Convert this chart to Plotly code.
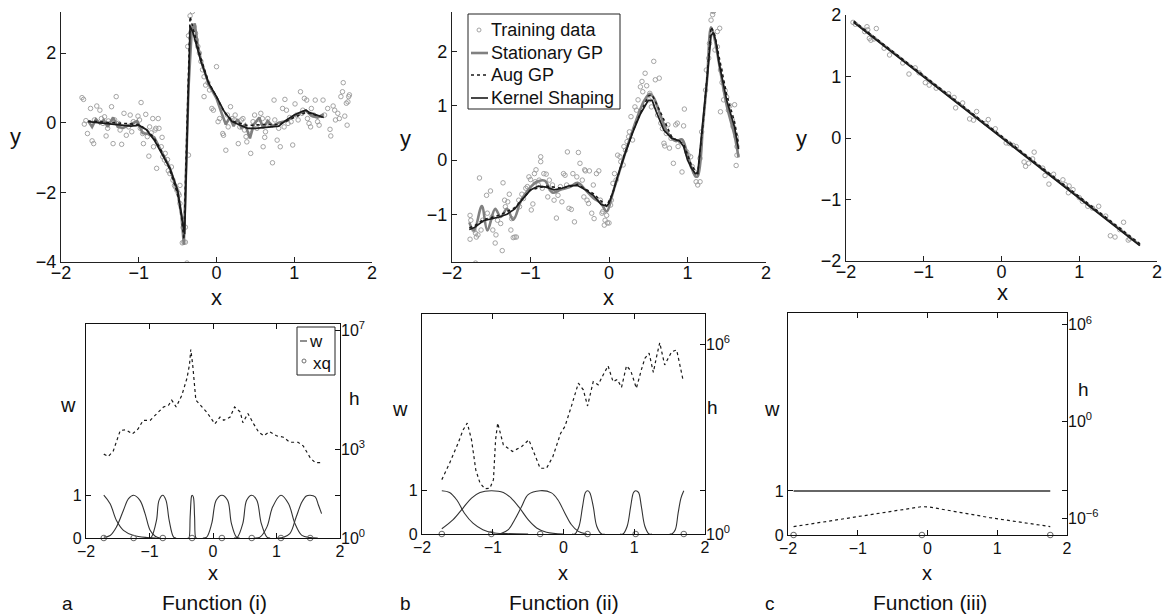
import plotly.graph_objects as go

W, H = 1166, 614
def fx(p): return p / W
def fy(p): return 1 - p / H

FONT = "Liberation Sans, Arial, sans-serif"

# ---------------- Top-left: Function (i) ----------------
TL_X = [-1.73,-1.71,-1.70,-1.68,-1.66,-1.62,-1.60,-1.58,-1.57,-1.54,-1.50,-1.48,-1.46,-1.44,-1.42,-1.40,-1.39,-1.35,-1.33,-1.29,
        -1.31,-1.26,-1.24,-1.22,-1.19,-1.16,-1.13,-1.11,-1.09,-1.07,-1.04,-1.01,-0.99,-0.98,-0.97,-0.95,-0.94,-0.91,-0.89,-0.87,
        -0.86,-0.84,-0.82,-0.81,-0.79,-0.78,-0.77,-0.75,-0.74,-0.71,-0.70,-0.69,-0.67,-0.66,-0.64,-0.63,-0.62,-0.60,-0.58,-0.56,
        -0.54,-0.53,-0.51,-0.49,-0.48,-0.47,-0.47,-0.44,-0.42,-0.40,-0.43,-0.40,-0.38,-0.36,-0.34,-0.31,-0.33,-0.36,-0.37,-0.29,
        -0.27,-0.26,-0.24,-0.22,-0.20,-0.18,-0.16,-0.14,-0.16,-0.11,-0.09,-0.06,-0.04,0.00,0.02,0.04,0.08,0.09,0.12,0.14,
        0.15,0.18,0.20,0.23,0.24,0.28,0.30,0.32,0.34,0.36,0.38,0.39,0.42,0.44,0.47,0.49,0.52,0.54,0.57,0.59,
        0.60,0.62,0.63,0.66,0.69,0.72,0.74,0.75,0.78,0.80,0.82,0.85,0.87,0.88,0.90,0.92,0.94,0.96,0.98,1.01,
        1.03,1.05,1.08,1.10,1.11,1.13,1.16,1.17,1.19,1.21,1.22,1.25,1.27,1.30,1.32,1.37,1.39,1.43,1.46,1.47,
        1.50,1.52,1.53,1.56,1.58,1.60,1.62,1.63,1.65,1.67,1.68,1.70,1.71,1.69]
TL_Y = [0.72,0.67,-0.04,0.06,-0.31,0.41,-0.52,-0.60,0.08,0.48,0.36,0.12,-0.02,0.17,-0.38,-0.16,0.05,0.46,-0.60,0.75,
        0.08,-0.02,-0.21,-0.62,0.27,-0.36,-0.12,0.22,-0.26,0.03,-0.04,0.19,0.08,-0.16,0.58,-0.31,-0.60,0.24,-0.40,-0.96,
        -0.12,-0.29,0.12,-0.69,-0.21,-0.16,-1.31,0.12,-0.16,-0.69,-0.42,-0.98,-1.07,-0.88,-1.17,-1.06,-1.38,-1.46,-1.27,-1.65,
        -1.80,-1.84,-1.94,-2.03,-2.08,-2.32,-1.80,-3.45,-3.43,-3.43,-3.01,-3.00,-4.03,-0.93,3.07,3.19,2.57,2.50,2.19,2.76,
        2.57,2.38,2.19,2.00,1.76,1.52,1.32,1.08,0.75,1.15,0.94,0.41,0.36,1.61,0.03,0.12,-0.31,-0.36,-0.79,0.22,
        -0.12,0.46,0.12,0.08,0.22,-0.60,-0.12,0.08,0.12,-0.21,-0.40,-0.55,-0.21,-0.88,0.03,0.22,-0.16,-0.02,0.27,0.12,
        -0.69,-0.42,-0.26,0.12,-0.07,-1.15,0.65,0.08,-0.50,-0.16,-0.69,0.41,-0.12,0.67,0.36,-0.02,0.15,0.03,-0.64,0.54,
        0.22,0.08,0.89,0.27,0.36,0.70,0.65,0.12,-0.02,-0.12,0.41,0.22,0.65,0.03,-0.07,0.65,0.22,0.41,-0.19,-0.38,
        0.48,0.36,0.08,0.27,0.12,0.75,0.89,1.15,0.19,0.56,-0.07,0.75,0.80,0.60]

TL_STAT_X = [-1.65,-1.60,-1.55,-1.50,-1.45,-1.40,-1.33,-1.27,-1.20,-1.12,-1.02,-0.95,-0.88,-0.80,-0.70,-0.60,-0.50,-0.45,-0.42,
             -0.36,-0.32,-0.28,-0.24,-0.20,-0.10,0.00,0.07,0.12,0.17,0.22,0.27,0.32,0.37,0.43,0.48,0.55,0.60,0.66,0.72,
             0.80,0.90,1.00,1.10,1.15,1.22,1.30,1.38]
TL_STAT_Y = [0.05,-0.12,0.10,-0.02,0.08,-0.12,0.15,-0.12,-0.15,-0.05,0.05,-0.30,-0.32,-0.42,-0.85,-1.30,-2.00,-2.70,-3.50,
             1.00,2.60,2.85,2.20,1.80,1.10,0.70,0.25,-0.05,0.15,-0.10,0.10,-0.15,-0.05,-0.45,-0.05,0.15,-0.15,0.05,-0.10,
             0.00,0.05,0.20,0.30,0.35,0.20,0.15,0.25]
TL_AUG_X = [-1.65,-1.30,-1.00,-0.90,-0.80,-0.70,-0.60,-0.50,-0.45,-0.42,-0.34,-0.30,-0.20,-0.10,0.00,0.10,0.20,0.40,0.60,
            0.80,1.00,1.15,1.38]
TL_AUG_Y = [0.05,0.00,-0.05,-0.20,-0.45,-0.85,-1.35,-2.05,-2.70,-3.35,3.05,2.70,1.85,1.15,0.75,0.30,0.05,-0.08,-0.05,
            -0.05,0.15,0.30,0.15]
TL_KS_X = [-1.65,-1.50,-1.30,-1.10,-1.00,-0.90,-0.80,-0.70,-0.60,-0.50,-0.45,-0.41,-0.34,-0.30,-0.20,-0.10,0.00,0.10,
           0.20,0.30,0.40,0.50,0.60,0.70,0.80,0.90,1.00,1.10,1.15,1.20,1.30,1.38]
TL_KS_Y = [0.03,0.00,-0.04,-0.10,-0.07,-0.20,-0.50,-0.88,-1.30,-1.94,-2.60,-3.20,2.78,2.57,1.76,1.13,0.75,0.32,
           0.03,-0.07,-0.16,-0.16,-0.14,-0.12,-0.10,0.08,0.22,0.32,0.36,0.29,0.22,0.15]

# ---------------- Top-middle: Function (ii) ----------------
TM_X = [-1.77,-1.76,-1.77,-1.72,-1.70,-1.69,-1.67,-1.70,-1.65,-1.63,-1.61,-1.56,-1.55,-1.51,-1.49,-1.48,-1.45,-1.44,-1.42,-1.38,
        -1.36,-1.35,-1.33,-1.32,-1.29,-1.27,-1.25,-1.24,-1.22,-1.20,-1.18,-1.15,-1.14,-1.11,-1.09,-1.06,-1.04,-1.02,-1.00,-0.99,
        -0.97,-0.95,-0.94,-0.93,-0.90,-0.89,-0.87,-0.87,-0.85,-0.83,-0.80,-0.78,-0.76,-0.74,-0.72,-0.70,-0.67,-0.65,-0.62,-0.60,
        -0.58,-0.56,-0.54,-0.53,-0.51,-0.48,-0.46,-0.44,-0.41,-0.39,-0.37,-0.34,-0.32,-0.31,-0.30,-0.28,-0.26,-0.25,-0.22,-0.20,
        -0.19,-0.16,-0.13,-0.11,-0.09,-0.08,-0.06,-0.05,-0.03,-0.02,0.00,0.02,0.03,0.05,0.07,0.09,0.11,0.14,0.15,0.18,
        0.19,0.21,0.23,0.25,0.26,0.28,0.30,0.33,0.35,0.37,0.40,0.42,0.43,0.46,0.48,0.51,0.52,0.54,0.57,0.59,
        0.60,0.62,0.64,0.66,0.68,0.70,0.71,0.73,0.75,0.77,0.79,0.82,0.85,0.87,0.88,0.91,0.93,0.95,0.96,0.99,
        1.01,1.04,1.06,1.09,1.11,1.13,1.16,1.16,1.18,1.23,1.24,1.27,1.28,1.30,1.32,1.33,1.31,1.34,1.35,1.38,
        1.38,1.41,1.42,1.44,1.46,1.48,1.50,1.52,1.54,1.57,1.58,1.60,1.62,1.63,1.62,1.63,1.42]
TM_Y = [-1.02,-1.11,-1.46,-1.29,-1.35,-1.42,-1.38,-1.90,-0.33,-1.29,-1.11,-0.65,-0.98,-0.57,-1.05,-1.29,-1.53,-1.38,-1.11,-1.17,
        -1.67,-0.42,-0.74,-0.86,-0.77,-0.63,-1.29,-1.08,-1.43,-1.42,-1.42,-0.74,-0.86,-0.63,-0.71,-0.52,-0.49,-0.31,-0.36,-0.92,
        -0.81,-0.25,-0.40,-0.18,-0.46,-0.37,0.06,-0.03,-0.52,-0.25,-0.26,-0.68,-0.37,-0.54,-0.46,-0.74,-1.07,-0.65,-0.49,-0.77,
        -0.25,-0.28,-0.46,0.15,-0.89,-0.91,-0.25,-1.14,-0.31,0.14,-0.06,-0.37,-0.68,-0.18,-0.20,-0.74,-0.80,-0.20,-0.98,-0.46,
        -1.08,-0.25,-0.20,-0.74,-0.98,-0.95,-1.20,-1.11,-1.02,-1.16,-1.16,-0.83,-0.74,-0.43,-0.25,-0.37,0.09,0.06,-0.03,-0.09,
        0.25,0.18,0.34,0.43,0.52,0.80,0.37,0.98,0.92,1.11,1.35,1.45,1.26,1.60,1.37,1.11,1.23,0.98,1.82,1.48,
        0.98,0.83,1.51,0.68,0.58,0.31,0.26,0.49,0.65,0.22,0.40,-0.06,0.65,0.68,0.25,0.34,-0.22,0.63,0.94,0.15,
        0.09,0.06,-0.12,-0.22,-0.40,-0.46,0.03,-0.40,0.52,1.29,1.66,1.88,2.15,2.58,2.68,2.74,2.76,2.76,2.03,2.09,
        2.37,2.43,1.66,1.43,1.11,1.28,1.16,0.92,1.00,0.74,0.62,1.02,0.43,0.25,-0.10,0.09,0.89]

TM_STAT_X = [-1.78,-1.72,-1.62,-1.55,-1.45,-1.38,-1.30,-1.22,-1.12,-1.00,-0.92,-0.82,-0.72,-0.62,-0.50,-0.40,-0.30,-0.20,
             -0.10,-0.03,0.05,0.20,0.35,0.45,0.52,0.57,0.65,0.75,0.85,0.93,1.00,1.10,1.13,1.20,1.25,1.30,1.35,1.40,1.50,
             1.60,1.65]
TM_STAT_Y = [-1.15,-1.30,-0.85,-1.30,-0.90,-1.05,-0.90,-1.10,-0.75,-0.50,-0.40,-0.38,-0.60,-0.55,-0.50,-0.42,-0.55,-0.70,
             -0.80,-0.95,-0.60,0.10,0.75,1.10,1.22,1.15,0.85,0.50,0.35,0.38,0.10,-0.30,-0.30,0.70,1.50,2.45,2.20,1.80,1.00,
             0.45,0.05]
TM_AUG_X = [-1.78,-1.72,-1.60,-1.40,-1.20,-1.00,-0.80,-0.60,-0.40,-0.20,-0.03,0.05,0.20,0.35,0.50,0.55,0.65,0.80,0.95,
            1.05,1.13,1.20,1.25,1.30,1.34,1.40,1.50,1.60,1.65]
TM_AUG_Y = [-1.25,-1.22,-1.10,-1.02,-0.88,-0.55,-0.48,-0.52,-0.45,-0.62,-0.85,-0.60,0.12,0.70,1.18,1.20,0.90,0.42,0.30,
            -0.10,-0.25,0.70,1.55,2.45,2.35,1.90,1.20,0.70,0.30]
TM_KS_X = [-1.78,-1.72,-1.60,-1.40,-1.30,-1.20,-1.10,-1.00,-0.90,-0.80,-0.70,-0.60,-0.50,-0.40,-0.30,-0.20,-0.10,-0.03,
           0.00,0.05,0.10,0.20,0.30,0.40,0.50,0.55,0.60,0.70,0.80,0.90,0.95,1.00,1.05,1.10,1.13,1.20,1.25,1.30,1.33,1.36,
           1.40,1.50,1.60,1.65]
TM_KS_Y = [-1.28,-1.25,-1.12,-1.05,-1.00,-0.90,-0.72,-0.55,-0.48,-0.50,-0.55,-0.52,-0.47,-0.47,-0.55,-0.65,-0.82,-0.85,
           -0.80,-0.60,-0.35,0.10,0.50,0.85,1.10,1.10,0.90,0.55,0.40,0.35,0.25,0.00,-0.15,-0.25,-0.25,0.70,1.50,2.30,2.35,2.20,
           1.80,1.10,0.60,0.20]

# ---------------- Top-right: Function (iii) ----------------
TR_X = [-1.91,-1.88,-1.73,-1.72,-1.70,-1.68,-1.61,-1.64,-1.51,-1.44,-1.19,-1.11,-1.06,-0.98,-0.93,-0.68,-0.61,-0.59,-0.41,-0.36,
        -0.32,-0.17,-0.08,0.06,0.10,0.15,0.29,0.31,0.35,0.42,0.40,0.56,0.61,0.67,0.79,0.82,0.86,0.87,1.00,1.04,
        1.11,1.25,1.40,1.46,1.57,1.63,1.65,-1.76,-1.27,-0.84,-0.50,-0.20,0.19,0.53,0.92,1.17,1.34,1.52]
TR_Y = [1.88,1.85,1.81,1.76,1.62,1.59,1.78,1.61,1.46,1.35,1.04,1.14,1.06,0.90,0.86,0.72,0.66,0.49,0.31,0.29,
        0.43,0.30,0.15,-0.08,-0.09,-0.12,-0.39,-0.46,-0.41,-0.23,-0.34,-0.61,-0.75,-0.59,-0.68,-0.76,-0.89,-0.78,-0.97,-1.03,
        -1.11,-1.11,-1.59,-1.61,-1.37,-1.66,-1.64,1.73,1.22,0.81,0.57,0.24,-0.14,-0.49,-0.84,-1.14,-1.27,-1.49]
TR_LINE_X = [-1.90, 1.78]
TR_STAT_Y = [1.89, -1.74]
TR_AUG_Y = [1.90, -1.72]
TR_KS_Y = [1.88, -1.75]

# ---------------- Bottom-left: weights (i) ----------------
BL_XQ = [-1.72, -1.25, -0.79, -0.33, 0.14, 0.61, 1.07, 1.53]
BL_XQ_W = [0, 0, 0, 0, 0, 0, 0, 0]
BL_BUMP_X = [
    [-1.72, -1.62, -1.52, -1.41, -1.25, -1.04, -0.90],
    [-1.72, -1.62, -1.52, -1.41, -1.33, -1.25, -1.15, -1.07, -0.99, -0.91, -0.83],
    [-1.00, -0.97, -0.89, -0.85, -0.79, -0.74, -0.69, -0.62, -0.58],
    [-0.40, -0.38, -0.36, -0.34, -0.33, -0.31, -0.29, -0.27, -0.25],
    [-0.16, -0.10, -0.02, 0.05, 0.14, 0.23, 0.29, 0.37, 0.42],
    [0.33, 0.38, 0.47, 0.53, 0.61, 0.69, 0.76, 0.85, 0.90],
    [0.65, 0.74, 0.85, 0.94, 1.07, 1.19, 1.29, 1.40, 1.53, 1.65],
    [1.00, 1.10, 1.21, 1.31, 1.40, 1.47, 1.53, 1.61, 1.66, 1.71],
]
BL_BUMP_W = [
    [1.00, 0.80, 0.41, 0.18, 0.06, 0.01, 0.00],
    [0.02, 0.06, 0.26, 0.65, 0.92, 1.00, 0.88, 0.57, 0.18, 0.04, 0.00],
    [0.00, 0.02, 0.41, 0.88, 1.00, 0.88, 0.41, 0.02, 0.00],
    [0.00, 0.00, 0.49, 0.96, 1.00, 0.96, 0.49, 0.00, 0.00],
    [0.00, 0.02, 0.34, 0.88, 1.00, 0.88, 0.34, 0.02, 0.00],
    [0.00, 0.01, 0.34, 0.88, 1.00, 0.88, 0.34, 0.02, 0.00],
    [0.00, 0.02, 0.26, 0.73, 1.00, 0.80, 0.34, 0.06, 0.01, 0.00],
    [0.00, 0.01, 0.10, 0.49, 0.84, 0.98, 1.00, 0.96, 0.77, 0.57],
]
BL_H_X = [-1.72,-1.65,-1.57,-1.46,-1.37,-1.27,-1.18,-1.10,-0.99,-0.89,-0.78,-0.70,-0.65,-0.58,-0.49,-0.41,-0.37,-0.35,
          -0.32,-0.27,-0.20,-0.10,0.03,0.11,0.17,0.27,0.34,0.43,0.47,0.55,0.64,0.72,0.80,0.89,1.00,1.11,1.21,1.34,1.42,
          1.53,1.61,1.70]
BL_H_LOG = [2.83,2.75,2.94,3.63,3.65,3.51,3.68,3.97,3.97,4.20,4.42,4.48,4.65,4.42,4.82,5.39,5.85,6.36,
            5.85,4.65,4.48,4.25,3.85,4.08,3.97,4.08,4.42,4.25,3.89,4.20,3.85,3.57,3.45,3.59,3.45,3.40,3.23,3.23,3.11,
            2.71,2.54,2.54]

# ---------------- Bottom-middle: weights (ii) ----------------
BM_XQ = [-1.72, -1.02, -0.33, 0.34, 1.02, 1.70]
BM_XQ_W = [0, 0, 0, 0, 0, 0]
BM_BUMP_X = [
    [-1.72, -1.61, -1.51, -1.40, -1.28, -1.14, -1.00, -0.81, -0.50],
    [-1.72, -1.56, -1.42, -1.30, -1.18, -1.02, -0.85, -0.74, -0.62, -0.50, -0.38, -0.24, 0.00],
    [-0.90, -0.78, -0.69, -0.59, -0.50, -0.33, -0.17, -0.08, 0.02, 0.11, 0.21, 0.33],
    [0.12, 0.16, 0.22, 0.27, 0.31, 0.34, 0.37, 0.42, 0.47, 0.54, 0.58],
    [0.80, 0.84, 0.90, 0.95, 0.99, 1.02, 1.06, 1.10, 1.15, 1.21, 1.25],
    [1.50, 1.53, 1.58, 1.62, 1.66, 1.70],
]
BM_BUMP_W = [
    [1.00, 0.96, 0.79, 0.48, 0.25, 0.10, 0.03, 0.01, 0.00],
    [0.12, 0.33, 0.60, 0.83, 0.96, 1.00, 0.96, 0.83, 0.60, 0.33, 0.14, 0.04, 0.00],
    [0.00, 0.10, 0.33, 0.64, 0.91, 1.00, 0.95, 0.79, 0.48, 0.22, 0.06, 0.00],
    [0.00, 0.00, 0.18, 0.64, 0.96, 1.00, 0.96, 0.64, 0.18, 0.00, 0.00],
    [0.00, 0.00, 0.18, 0.64, 0.96, 1.00, 0.96, 0.64, 0.18, 0.00, 0.00],
    [0.00, 0.00, 0.10, 0.48, 0.83, 1.00],
]
BM_H_X = [-1.72,-1.61,-1.49,-1.42,-1.36,-1.30,-1.24,-1.18,-1.11,-1.04,-0.99,-0.96,-0.93,-0.85,-0.72,-0.59,-0.49,-0.43,
          -0.33,-0.24,-0.15,-0.04,0.02,0.11,0.21,0.28,0.34,0.42,0.49,0.56,0.63,0.70,0.76,0.82,0.89,0.95,1.03,1.10,
          1.15,1.21,1.27,1.32,1.36,1.43,1.53,1.60,1.69]
BM_H_LOG = [1.72,2.24,2.87,3.29,3.51,2.98,2.03,1.61,1.43,1.45,1.72,2.98,3.51,2.82,2.61,2.77,2.98,2.66,
            2.08,2.08,2.45,3.19,3.40,4.03,4.77,4.56,4.05,4.82,4.72,5.03,5.32,4.82,4.89,4.64,5.32,5.17,4.61,5.19,
            5.56,5.72,5.11,5.66,6.05,5.35,5.77,5.82,4.87]

# ---------------- Bottom-right: weights (iii) ----------------
BR_XQ = [-1.92, -0.08, 1.76]
BR_XQ_W = [0, 0, 0]
BR_W_X = [-1.92, 1.76]
BR_W_Y = [1, 1]
BR_H_X = [-1.92, -1.03, -0.08, 0.02, 0.89, 1.76]
BR_H_LOG = [-6.52, -5.92, -5.28, -5.30, -5.96, -6.52]

# ---------------- figure ----------------
fig = go.Figure()

C_DATA = "#9a9a9a"
C_STAT = "#808080"
C_DARK = "#1a1a1a"
C_W = "#333333"

def add_top(xs, ys, stx, sty, agx, agy, ksx, ksy, xa, ya, stat_shape="linear"):
    fig.add_trace(go.Scatter(x=xs, y=ys, mode="markers", xaxis=xa, yaxis=ya, showlegend=False,
                             marker=dict(symbol="circle-open", size=4.5, color=C_DATA, line=dict(width=0.9))))
    fig.add_trace(go.Scatter(x=stx, y=sty, mode="lines", xaxis=xa, yaxis=ya, showlegend=False,
                             line=dict(color=C_STAT, width=2.6, shape=stat_shape)))
    fig.add_trace(go.Scatter(x=agx, y=agy, mode="lines", xaxis=xa, yaxis=ya, showlegend=False,
                             line=dict(color=C_DARK, width=1.6, dash="dot")))
    fig.add_trace(go.Scatter(x=ksx, y=ksy, mode="lines", xaxis=xa, yaxis=ya, showlegend=False,
                             line=dict(color=C_DARK, width=1.7)))

add_top(TL_X, TL_Y, TL_STAT_X, TL_STAT_Y, TL_AUG_X, TL_AUG_Y, TL_KS_X, TL_KS_Y, "x", "y")
add_top(TM_X, TM_Y, TM_STAT_X, TM_STAT_Y, TM_AUG_X, TM_AUG_Y, TM_KS_X, TM_KS_Y, "x2", "y2", "spline")
add_top(TR_X, TR_Y, TR_LINE_X, TR_STAT_Y, TR_LINE_X, TR_AUG_Y, TR_LINE_X, TR_KS_Y, "x3", "y3")

def add_bottom(bx, bw, xq, xqw, hx, hlog, xa, ya, yh, wwidth=1.1):
    for px_, pw_ in zip(bx, bw):
        fig.add_trace(go.Scatter(x=px_, y=pw_, mode="lines", xaxis=xa, yaxis=ya, showlegend=False,
                                 line=dict(color=C_W, width=wwidth, shape="spline", smoothing=1.0)))
    fig.add_trace(go.Scatter(x=hx, y=[10 ** v for v in hlog], mode="lines", xaxis=xa, yaxis=yh, showlegend=False,
                             line=dict(color=C_DARK, width=1.2, dash="dot")))
    fig.add_trace(go.Scatter(x=xq, y=xqw, mode="markers", xaxis=xa, yaxis=ya, showlegend=False, cliponaxis=False,
                             marker=dict(symbol="circle-open", size=5.5, color="#6f6f6f", line=dict(width=1.1))))

add_bottom(BL_BUMP_X, BL_BUMP_W, BL_XQ, BL_XQ_W, BL_H_X, BL_H_LOG, "x4", "y4", "y5")
add_bottom(BM_BUMP_X, BM_BUMP_W, BM_XQ, BM_XQ_W, BM_H_X, BM_H_LOG, "x5", "y6", "y7")
add_bottom([BR_W_X], [BR_W_Y], BR_XQ, BR_XQ_W, BR_H_X, BR_H_LOG, "x6", "y8", "y9", wwidth=1.6)

TICKF_TOP = dict(family=FONT, size=18, color="#111")
TICKF_BOT = dict(family=FONT, size=16, color="#111")

def top_x(dom, anchor):
    return dict(domain=[fx(dom[0]), fx(dom[1])], range=[-2, 2], anchor=anchor, showgrid=False, zeroline=False,
                showline=True, linecolor="#222", linewidth=1.2, ticks="inside", ticklen=5, tickcolor="#222",
                tickvals=[-2, -1, 0, 1, 2], tickfont=TICKF_TOP, automargin=False, ticklabelstandoff=-6)

def top_y(dom, rng, tv, anchor):
    return dict(domain=[fy(dom[1]), fy(dom[0])], range=rng, anchor=anchor, showgrid=False, zeroline=False,
                showline=True, linecolor="#222", linewidth=1.2, ticks="inside", ticklen=5, tickcolor="#222",
                tickvals=tv, tickfont=TICKF_TOP, automargin=False)

def bot_x(dom, anchor):
    return dict(domain=[fx(dom[0]), fx(dom[1])], range=[-2, 2], anchor=anchor, showgrid=False, zeroline=False,
                showline=True, mirror="ticks", linecolor="#111", linewidth=1.3, ticks="inside", ticklen=5,
                tickcolor="#111", tickvals=[-2, -1, 0, 1, 2], tickfont=TICKF_BOT, automargin=False,
                ticklabelstandoff=-1)

def bot_w(dom, rng, anchor):
    return dict(domain=[fy(dom[1]), fy(dom[0])], range=rng, anchor=anchor, showgrid=False, zeroline=False,
                showline=True, mirror="ticks", linecolor="#111", linewidth=1.3, ticks="inside", ticklen=5,
                tickcolor="#111", tickvals=[0, 1], tickfont=TICKF_BOT, automargin=False)

def bot_h(over, rng, tv, tt, anchor):
    return dict(overlaying=over, side="right", type="log", range=rng, anchor=anchor, showgrid=False,
                zeroline=False, showline=False, ticks="inside", ticklen=5, tickcolor="#111",
                tickvals=tv, ticktext=tt, tickfont=TICKF_BOT, automargin=False)

# pixel boxes (left, right) and (top, bottom)
fig.update_layout(
    xaxis=top_x((61, 372), "y"),
    yaxis=top_y((12, 262), [-4, 3.18], [-4, -2, 0, 2], "x"),
    xaxis2=top_x((452, 766), "y2"),
    yaxis2=top_y((12, 262), [-1.88, 2.73], [-1, 0, 1, 2], "x2"),
    xaxis3=top_x((846, 1157), "y3"),
    yaxis3=top_y((15, 261), [-2, 2], [-2, -1, 0, 1, 2], "x3"),
    xaxis4=bot_x((86, 340), "y4"),
    yaxis4=bot_w((324, 538), [0, 5.0], "x4"),
    yaxis5=bot_h("y4", [0, 7.22], [1, 1e3, 1e7], ["10<sup>0</sup>", "10<sup>3</sup>", "10<sup>7</sup>"], "x4"),
    xaxis5=bot_x((422, 705), "y6"),
    yaxis6=bot_w((314, 534), [0, 5.08], "x5"),
    yaxis7=bot_h("y6", [0, 6.96], [1, 1e6], ["10<sup>0</sup>", "10<sup>6</sup>"], "x5"),
    xaxis6=bot_x((788, 1067), "y8"),
    yaxis8=bot_w((313, 535), [0, 5.04], "x6"),
    yaxis9=bot_h("y8", [-7.04, 6.73], [1e-6, 1, 1e6],
                 ["10<sup>\u22126</sup>", "10<sup>0</sup>", "10<sup>6</sup>"], "x6"),
)

annotations = []
def label(text, x, y, size=22, xanchor="center"):
    annotations.append(dict(text=text, x=fx(x), y=fy(y), xref="paper", yref="paper", showarrow=False,
                            xanchor=xanchor, yanchor="middle", font=dict(family=FONT, size=size, color="#111")))

# axis labels
label("x", 216, 297); label("x", 608, 297); label("x", 1002, 292)
label("y", 15, 136); label("y", 405, 138); label("y", 801, 138)
label("x", 213, 573, 20); label("x", 563, 573, 20); label("x", 927, 573, 20)
label("w", 68, 405, 20); label("w", 400, 409, 20); label("w", 772, 409, 20)
label("h", 354, 398, 19); label("h", 712, 407, 19); label("h", 1083, 390, 19)
# panel captions
label("a", 67, 603, 19); label("Function (i)", 214, 602, 21)
label("b", 405, 603, 19); label("Function (ii)", 564, 602, 21)
label("c", 770, 603, 19); label("Function (iii)", 930, 602, 21)

# legend (top-middle)
shapes = []
shapes.append(dict(type="rect", xref="paper", yref="paper", x0=fx(468), x1=fx(620), y0=fy(109), y1=fy(14),
                   line=dict(color="#222", width=1), fillcolor="white", layer="above"))
LEG_ROWS = [30, 53, 75, 98]
LEG_TEXT = ["Training data", "Stationary GP", "Aug GP", "Kernel Shaping"]
shapes.append(dict(type="circle", xref="paper", yref="paper", x0=fx(477), x1=fx(481), y0=fy(32), y1=fy(28),
                   line=dict(color=C_DATA, width=0.9), layer="above"))
shapes.append(dict(type="line", xref="paper", yref="paper", x0=fx(471), x1=fx(488), y0=fy(53), y1=fy(53),
                   line=dict(color=C_STAT, width=2.6), layer="above"))
shapes.append(dict(type="line", xref="paper", yref="paper", x0=fx(471), x1=fx(488), y0=fy(75), y1=fy(75),
                   line=dict(color=C_DARK, width=1.6, dash="dot"), layer="above"))
shapes.append(dict(type="line", xref="paper", yref="paper", x0=fx(471), x1=fx(488), y0=fy(98), y1=fy(98),
                   line=dict(color=C_DARK, width=1.6), layer="above"))
for yy, tt in zip(LEG_ROWS, LEG_TEXT):
    label(tt, 489, yy, 18, "left")

# legend (bottom-left)
shapes.append(dict(type="rect", xref="paper", yref="paper", x0=fx(297), x1=fx(335), y0=fy(375), y1=fy(327),
                   line=dict(color="#222", width=1), fillcolor="white", layer="above"))
shapes.append(dict(type="line", xref="paper", yref="paper", x0=fx(300), x1=fx(307), y0=fy(341), y1=fy(341),
                   line=dict(color=C_W, width=1.1), layer="above"))
shapes.append(dict(type="circle", xref="paper", yref="paper", x0=fx(302), x1=fx(306), y0=fy(363), y1=fy(359),
                   line=dict(color="#6f6f6f", width=1), layer="above"))
label("w", 307, 341, 17, "left")
label("xq", 311, 363, 17, "left")

fig.update_layout(width=W, height=H, margin=dict(l=0, r=0, t=0, b=0, autoexpand=False), paper_bgcolor="white",
                  plot_bgcolor="white", showlegend=False, annotations=annotations, shapes=shapes,
                  font=dict(family=FONT, color="#111"))

fig.write_html("out.html", config={"displayModeBar": False},
               post_script="document.body.style.margin='0';document.body.style.padding='0';"
                           "document.body.style.overflow='hidden';")
